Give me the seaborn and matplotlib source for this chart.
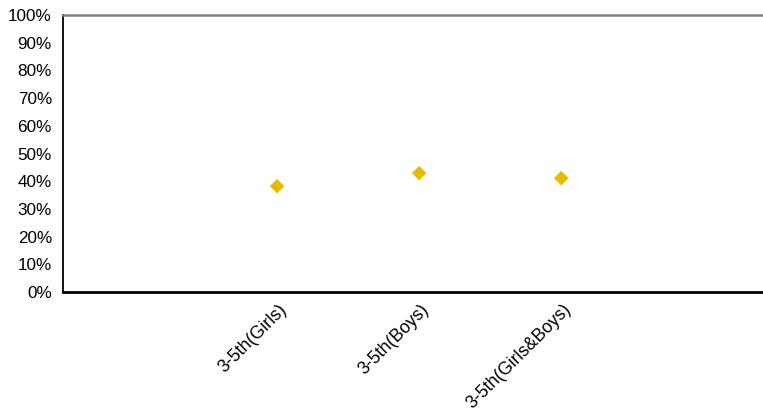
import matplotlib
matplotlib.use("Agg")
import matplotlib.pyplot as plt
import matplotlib.transforms as mtransforms
import seaborn as sns
import pandas as pd
from matplotlib.ticker import PercentFormatter

groups = ["3-5th(Girls)", "3-5th(Boys)", "3-5th(Girls&Boys)"]
shares = [38.2, 42.9, 41.1]

df = pd.DataFrame({"group": groups, "share": shares, "pos": range(len(groups))})

sns.set_style("white")
plt.rcParams["font.family"] = ["Liberation Sans", "DejaVu Sans"]

fig, ax = plt.subplots(figsize=(7.63, 4.12), dpi=100)
fig.subplots_adjust(left=63 / 763, right=1.0, top=1 - 15 / 412, bottom=1 - 292 / 412)

sns.scatterplot(data=df, x="pos", y="share", marker="D", s=55, color="#E6BC00",
                edgecolor="none", ax=ax)

ax.set_xlim(-1.507, 3.42)
ax.set_ylim(0, 100)
ax.set_yticks(range(0, 101, 10))
ax.yaxis.set_major_formatter(PercentFormatter(decimals=0))
ax.set_xticks(df["pos"])
ax.tick_params(axis="both", length=0, colors="black")
ax.tick_params(axis="y", pad=8, labelsize=12.3)
ax.set_xlabel("")
ax.set_ylabel("")

ax.set_xticklabels(groups, rotation=45, ha="right", va="center", rotation_mode="anchor",
                   fontsize=12.8)
# shift rotated labels so their ends sit a little right of and below each tick
offset = mtransforms.ScaledTranslation(7 / 100, -10 / 100, fig.dpi_scale_trans)
for lbl in ax.get_xticklabels():
    lbl.set_transform(lbl.get_transform() + offset)

ax.spines["right"].set_visible(False)
ax.spines["top"].set_color("#808080")
ax.spines["top"].set_linewidth(1.8)
ax.spines["bottom"].set_color("black")
ax.spines["bottom"].set_linewidth(2)
ax.spines["left"].set_color("black")
ax.spines["left"].set_linewidth(1.3)

fig.savefig("out.png", dpi=100)
